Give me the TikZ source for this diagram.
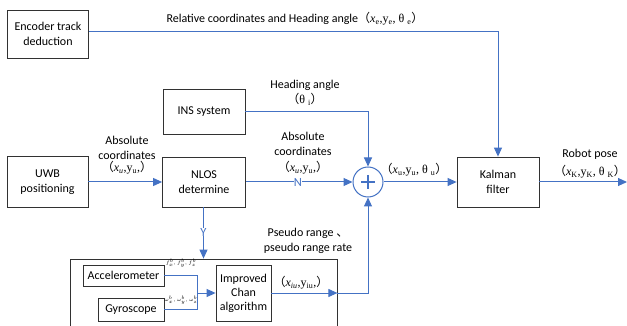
\documentclass[tikz,border=0pt]{standalone}
\usepackage{fontspec}
\setmainfont{Carlito}
\newfontfamily\tnr{Liberation Serif}
\newfontfamily\cjkf{Noto Sans CJK SC}
\usetikzlibrary{arrows.meta,calc}
\definecolor{lblue}{RGB}{68,114,196}
\definecolor{bord}{RGB}{50,50,50}
\newcommand\lpar{{\cjkf （}}
\newcommand\rpar{{\cjkf ）}}
\newcommand\sbs[1]{\textsubscript{#1}}
\begin{document}
\begin{tikzpicture}[x=1pt,y=-1pt,
  box/.style={draw=bord,line width=0.8pt,fill=white,align=center,inner sep=1pt,
    font=\fontsize{12}{15}\selectfont},
  conn/.style={draw=lblue,line width=1pt},
  arr/.style={conn,-{Triangle[length=9pt,width=8pt]}},
  lbl/.style={align=center,inner sep=1pt,font=\fontsize{12}{15}\selectfont},
  yn/.style={fill=white,text=lblue,inner sep=0.3pt,font=\fontsize{12.5}{12.5}\selectfont},
  crd/.style={inner sep=1pt,font=\fontsize{12}{14}\selectfont},
  tiny/.style={inner sep=0pt,font=\fontsize{4}{5}\selectfont}]
\useasboundingbox (0,0) rectangle (627,326);
% boxes
\node[box,minimum width=81pt,minimum height=48pt] (enc) at (48,34) {Encoder track\\deduction};
\node[box,minimum width=82pt,minimum height=45pt] (ins) at (204,112) {INS system};
\node[box,minimum width=81pt,minimum height=51pt] (uwb) at (47.5,182) {UWB\\positioning};
\node[box,minimum width=83pt,minimum height=50pt] (nlos) at (204,182) {NLOS\\determine};
\node[draw=lblue,line width=1pt,circle,minimum size=30pt,inner sep=0pt,fill=white] (sum) at (368,182) {};
\draw[lblue,line width=1.2pt] ($(sum.center)+(-7,0)$) -- ($(sum.center)+(7,0)$);
\draw[lblue,line width=1.2pt] ($(sum.center)+(0,-7)$) -- ($(sum.center)+(0,7)$);
\node[box,minimum width=82pt,minimum height=50pt] (kal) at (498,182) {Kalman\\filter};
\node[draw=bord,line width=0.8pt,minimum width=267pt,minimum height=68pt,inner sep=0pt] (grp) at (203.5,293) {};
\node[box,minimum width=81pt,minimum height=21pt] (acc) at (123.5,275.5) {Accelerometer};
\node[box,minimum width=66pt,minimum height=23pt] (gyr) at (131,309.5) {Gyroscope};
\node[box,minimum width=55pt,minimum height=56pt,font=\fontsize{12}{14}\selectfont] (chan) at (243.5,293) {Improved\\Chan\\algorithm};
\coordinate (jn) at (197,293);
\coordinate (gout) at (grp.east |- chan.east);
% connectors
\draw[arr] (enc.east |- 0,32) -| (kal.north);
\draw[arr] (ins.east) -| (sum.north);
\draw[arr] (uwb.east) -- (nlos.west);
\draw[arr] (nlos.east) -- (sum.west);
\draw[arr] (sum.east) -- (kal.west);
\draw[arr] (kal.east) -- (627,182);
\draw[arr] (nlos.south -| grp.north) -- (grp.north);
\draw[conn] (acc.east) -| (jn |- acc.east) -- (jn |- gyr.east) -- (gyr.east);
\draw[arr] (jn) -- (chan.west);
\draw[arr] (chan.east) -- (gout);
\draw[arr] (gout) -| (sum.south);
% labels
\node[lbl] (t1) at (295,19) {Relative coordinates and Heading angle\lpar{\tnr\textit{x}\sbs{e},y\sbs{e}, θ \sbs{e}}\rpar};
\node[lbl] (t2) at (305,93) {Heading angle\\\lpar{\tnr θ \sbs{i}}\rpar};
\node[lbl] (t3) at (303,144) {Absolute\\coordinates};
\node[crd] (t3b) at (303,168) {\lpar{\tnr\textit{x}\sbs{\textit{u}},y\sbs{u},}\rpar};
\node[lbl] (t4) at (127,148) {Absolute\\coordinates};
\node[crd] (t4b) at (127,168) {\lpar{\tnr\textit{x}\sbs{\textit{u}},y\sbs{u},}\rpar};
\node[yn] (tn) at (298,182) {N};
\node[yn] (ty) at (203.5,232) {Y};
\node[crd] (t5) at (414,170) {\lpar{\tnr\textit{x}\sbs{u},y\sbs{u}, θ \sbs{u}}\rpar};
\node[lbl] (t6) at (590,154) {Robot pose};
\node[crd] (t6b) at (590,172) {\lpar{\tnr\textit{x}\sbs{K},y\sbs{K}, θ \sbs{K}}\rpar};
\node[lbl] (t7) at (308,240.5) {Pseudo range {\cjkf 、}\\pseudo range rate};
\node[crd] (t8) at (301,283) {\lpar{\tnr\textit{x}\sbs{\textit{iu}},y\sbs{iu},}\rpar};
\node[tiny] (t9) at (181,263) {$f_x^b,f_y^b,f_z^b$};
\node[tiny] (t10) at (181,300) {$\omega_x^b,\omega_y^b,\omega_z^b$};
\end{tikzpicture}
\end{document}
